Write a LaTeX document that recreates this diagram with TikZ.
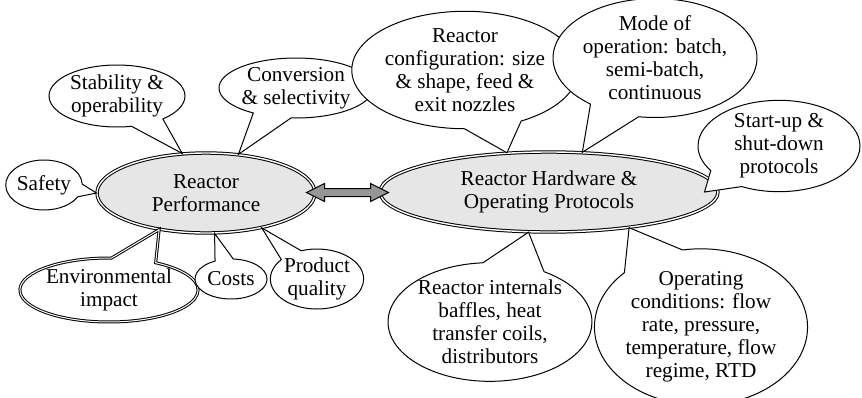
\documentclass[tikz,border=0pt]{standalone}
\usepackage{fontspec}
\setmainfont{Liberation Serif}
\usetikzlibrary{shapes,shapes.callouts,positioning,calc}
\definecolor{hubfill}{RGB}{230,230,230}
\definecolor{arrowgray}{RGB}{150,150,150}

\tikzset{
  hub/.style={ellipse, draw, double, double distance=0.7pt, fill=hubfill, inner sep=0pt, align=center},
  bubble/.style={ellipse callout, draw, fill=white, inner sep=0pt, align=center, callout pointer arc=30},
}

\begin{document}
\begin{tikzpicture}[x=0.5pt,y=-0.5pt,line width=0.5pt,font=\fontsize{10.6}{11.5}\selectfont]
\useasboundingbox (0,0) rectangle (862,397);
% Hauptknoten
\node[hub, minimum width=109pt, minimum height=40pt] (perf) at (206,193) {Reactor\\Performance};
\node[hub, minimum width=169pt, minimum height=40pt] (hw) at (549,192) {Reactor Hardware \&\\Operating Protocols};
\coordinate (link) at ($(perf.east)!0.5!(hw.west)$);
\draw[fill=arrowgray, line join=miter, shift={(link)}] (-41,0) -- (-23,-9) -- (-23,-4) -- (23,-4) -- (23,-9)
  -- (41,0) -- (23,9) -- (23,4) -- (-23,4) -- (-23,9) -- cycle;

% Leistung
\node[bubble, minimum width=36pt, minimum height=25pt, callout absolute pointer={(perf.180)}] (safety) at (44,185) {Safety};
\node[bubble, minimum width=68pt, minimum height=31pt, callout absolute pointer={(perf.121)}] (stab) at (117,96) {Stability \&\\operability};
\node[bubble, minimum width=64pt, minimum height=30pt, callout absolute pointer={(perf.50)}] (conv) at (296,88) {Conversion\\\& selectivity};
\node[bubble, double, double distance=0.5pt, minimum width=71pt, minimum height=32pt, callout absolute pointer={(perf.218)}] (env) at (109,290) {Environmental\\impact};
\node[bubble, minimum width=36pt, minimum height=20pt, callout absolute pointer={(perf.282)}] (cost) at (231,279) {Costs};
\node[bubble, minimum width=44pt, minimum height=30pt, callout absolute pointer={(perf.328)}] (qual) at (317,279) {Product\\quality};

% Hardware
\node[bubble, minimum width=98pt, minimum height=50pt, callout absolute pointer={(hw.137)}] (config) at (465,70) {Reactor\\configuration: size\\\& shape, feed \&\\exit nozzles};
\node[bubble, minimum width=93pt, minimum height=56pt, callout absolute pointer={(hw.50)}] (mode) at (655,58) {Mode of\\operation: batch,\\semi-batch,\\continuous};
\node[bubble, minimum width=81pt, minimum height=45pt, callout absolute pointer={($(hw.east)+(-14,0)$)}] (start) at (779,146) {Start-up \&\\shut-down\\protocols};
\node[bubble, callout pointer arc=36, minimum width=98pt, minimum height=58pt, callout absolute pointer={(hw.243)}] (intern) at (490,322) {Reactor internals\\baffles, heat\\transfer coils,\\distributors};
\node[bubble, callout pointer arc=36, minimum width=99pt, minimum height=66pt, callout absolute pointer={(hw.336)}] (cond) at (701,327) {Operating\\conditions: flow\\rate, pressure,\\temperature, flow\\regime, RTD};
\end{tikzpicture}
\end{document}
